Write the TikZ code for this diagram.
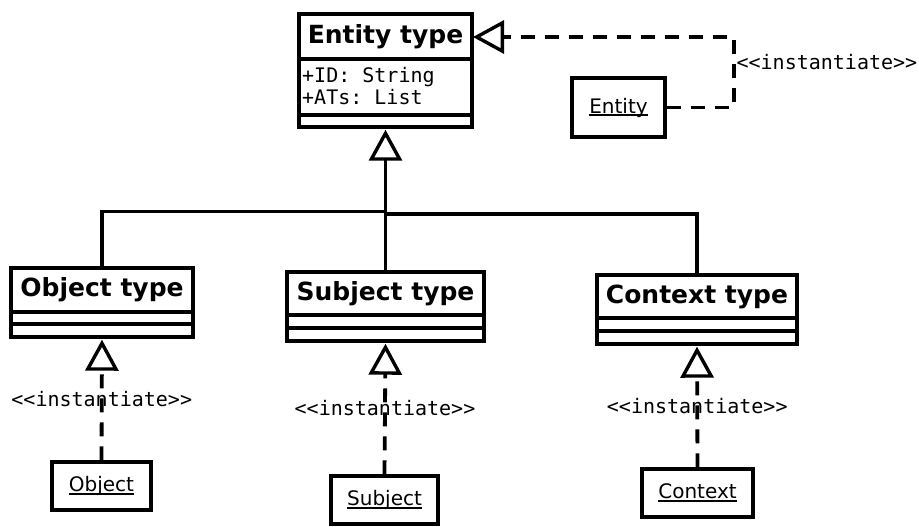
\documentclass[tikz,border=0pt]{standalone}
\usepackage{fontspec}
\setmainfont{DejaVu Sans}
\setmonofont{DejaVu Sans Mono}
\usetikzlibrary{arrows.meta}

% underlined object name with a thin rule
\newcommand\ulabel[1]{\setbox0\hbox{#1}\rlap{\rule[-3pt]{\wd0}{1.6pt}}\box0}

\begin{document}
\begin{tikzpicture}[x=1pt,y=-1pt,
  box/.style={draw, line width=3.4pt, inner sep=0pt},
  title/.style={font=\fontsize{25}{30}\selectfont\bfseries, inner sep=0pt},
  attr/.style={font=\fontsize{20}{24}\selectfont\ttfamily, inner sep=0pt, anchor=base west},
  stereo/.style={font=\fontsize{20}{24}\selectfont\ttfamily, inner sep=1pt},
  inst/.style={box, font=\fontsize{20}{24}\selectfont},
  link/.style={line width=3.4pt},
  hollow/.style={-{Triangle[open, length=31pt, width=33pt, line width=3.4pt]}, shorten >=1pt},
  gen/.style={link, hollow},
  real/.style={line width=3.8pt, dash pattern=on 14pt off 10pt, hollow},
]
\useasboundingbox (0,0) rectangle (919,527);

% ---- class boxes ----
\node[box, minimum width=173pt, minimum height=113pt] (entitytype) at (385.5,70.5) {};
\node[title] (entitytitle) at (385.5,37) {Entity type};
\draw[link] (299,59) -- (472,59);
\draw[link] (299,115) -- (472,115);
\node[attr] (attrid) at (302,82) {+ID: String};
\node[attr] (attrats) at (302,104) {+ATs: List};

\node[box, minimum width=182pt, minimum height=69pt] (objecttype) at (102,302.5) {};
\node[title] (objecttitle) at (102,290) {Object type};
\draw[link] (11,312) -- (193,312);
\draw[link] (11,324) -- (193,324);

\node[box, minimum width=197pt, minimum height=69pt] (subjecttype) at (385.5,306.5) {};
\node[title] (subjecttitle) at (385.5,293.5) {Subject type};
\draw[link] (287,315) -- (484,315);
\draw[link] (287,328) -- (484,328);

\node[box, minimum width=200pt, minimum height=69pt] (contexttype) at (697,309.5) {};
\node[title] (contexttitle) at (697,296.5) {Context type};
\draw[link] (597,318) -- (797,318);
\draw[link] (597,331) -- (797,331);

% ---- instances ----
\node[inst, minimum width=93pt, minimum height=59pt] (entity) at (618.5,107.5) {\ulabel{Entity}};
\node[inst, minimum width=99pt, minimum height=48pt] (object) at (101.5,486) {\ulabel{Object}};
\node[inst, minimum width=107pt, minimum height=48pt] (subject) at (384.5,500) {\ulabel{Subject}};
\node[inst, minimum width=111pt, minimum height=48pt] (context) at (697.5,493) {\ulabel{Context}};

% ---- generalization tree ----
\coordinate (jl) at (385.5,211.5);
\coordinate (jr) at (385.5,214);
\draw[gen] (jr) -- (entitytype.south);
\draw[link] (objecttype.north) |- (jl);
\draw[link] (subjecttype.north) -- (jr);
\draw[link] (contexttype.north) |- (jr);

% ---- instantiation ----
\draw[real] (object.north) -- node[stereo] {<<instantiate>>} (objecttype.south);
\draw[real] (subject.north) -- node[stereo] {<<instantiate>>} (subjecttype.south);
\draw[real] (context.north) -- node[stereo] {<<instantiate>>} (contexttype.south);

\coordinate (etip) at (472,37);
\draw[real] (entity.east) -- ++(67,0) |- node[stereo, anchor=west, pos=0.32] {<<instantiate>>} (etip);
\end{tikzpicture}
\end{document}
